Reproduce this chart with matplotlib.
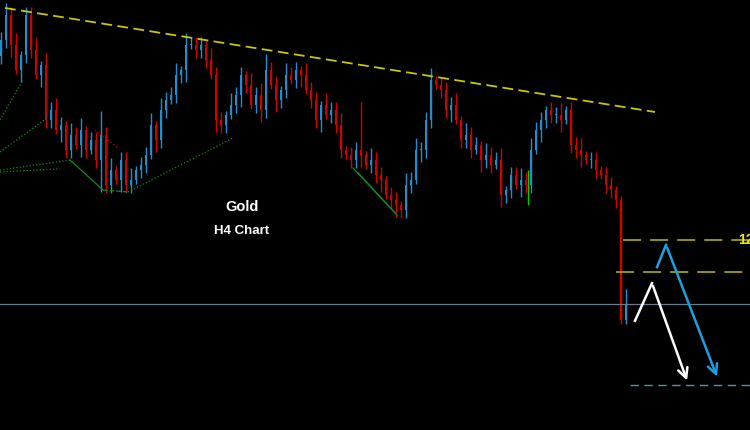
import numpy as np
import matplotlib.pyplot as plt

# Gold H4 candles (price), one candle every 4 hours
closes = [1320, 1326.2, 1318.8, 1312.5, 1316.2, 1326.2, 1317.5, 1311.2, 1313.8, 1300,
          1302.5, 1297.5, 1298.8, 1292.5, 1296.2, 1293.8, 1297.5, 1292.5, 1295, 1290,
          1296.2, 1283.8, 1287.5, 1285, 1290, 1283.8, 1285, 1287.5, 1288.8, 1291.2,
          1298.8, 1295, 1302.5, 1305, 1306.2, 1311.2, 1312.5, 1318.8, 1318.8, 1317.5,
          1318.8, 1315, 1311.2, 1300, 1298.8, 1301.2, 1303.8, 1306.2, 1311.2, 1308.8,
          1303.8, 1306.2, 1302.5, 1312.5, 1308.8, 1305, 1307.5, 1311.2, 1310, 1312.5,
          1311.2, 1307.5, 1305, 1300, 1303.8, 1301.2, 1302.5, 1298.8, 1292.5, 1291.2,
          1290, 1292.5, 1291.2, 1288.8, 1290, 1286.2, 1285, 1281.2, 1280, 1278.8,
          1277.5, 1283.8, 1285, 1292.5, 1292.5, 1300, 1310, 1308.8, 1307.5, 1302.5,
          1303.8, 1300, 1295, 1296.2, 1292.5, 1293.8, 1290, 1291.2, 1288.8, 1290,
          1281.2, 1282.5, 1286.2, 1283.8, 1285, 1283.8, 1292.5, 1297.5, 1300, 1302.5,
          1301.2, 1301.2, 1300, 1302.5, 1293.8, 1292.5, 1291.2, 1290, 1290, 1287.5,
          1286.2, 1283.8, 1282.5, 1280, 1250, 1253.8]
first_open = 1316
wick_up = [2, 3, 2, 3, 1, 2, 2, 3, 1, 3,
           2, 3, 2, 1, 3, 2, 3, 1, 2, 2,
           6, 2, 3, 1, 2, 2, 3, 1, 2, 2,
           3, 1, 3, 2, 2, 3, 1, 3, 2, 2,
           2, 1, 3, 2, 2, 1, 3, 2, 2, 1,
           3, 2, 3, 4, 2, 2, 1, 3, 2, 2,
           1, 3, 2, 2, 1, 3, 2, 2, 3, 1,
           2, 2, 12, 1, 3, 2, 2, 1, 2, 2,
           1, 3, 2, 3, 2, 2, 3, 1, 2, 2,
           2, 3, 1, 3, 2, 2, 1, 3, 2, 2,
           3, 1, 2, 2, 3, 2, 3, 2, 2, 1,
           2, 2, 3, 1, 2, 2, 3, 1, 2, 2,
           1, 2, 2, 1, 1, 4]
wick_dn = [2, 2, 3, 1, 3, 2, 2, 1, 3, 2,
           2, 1, 3, 2, 2, 1, 3, 2, 1, 2,
           8, 2, 2, 1, 3, 2, 2, 1, 2, 2,
           1, 3, 2, 2, 1, 2, 2, 3, 1, 2,
           2, 2, 1, 3, 2, 2, 1, 2, 3, 2,
           1, 2, 3, 2, 1, 3, 2, 2, 1, 2,
           3, 1, 2, 2, 3, 1, 2, 2, 2, 1,
           2, 2, 3, 1, 2, 2, 3, 1, 2, 3,
           2, 2, 2, 1, 3, 2, 2, 1, 2, 2,
           3, 1, 2, 2, 2, 1, 3, 2, 2, 1,
           3, 2, 2, 1, 3, 2, 2, 1, 3, 2,
           2, 2, 3, 1, 2, 2, 3, 1, 2, 2,
           1, 2, 2, 2, 1, 1]

# drawn objects (candle index, price)
trend_x = [0.8, 130.8]
trend_y = [1328, 1302]
level_hi = 1270
level_lo = 1262
level_now = 1254
level_target = 1233.8
white_x = [126.8, 130.2, 137.4]
white_y = [1249.8, 1259.2, 1234.2]
blue_x = [131.2, 133.0, 143.4]
blue_y = [1263.2, 1268.8, 1235.2]
fan_lines = [([-0.2, 4.4], [1300, 1310]),
             ([-0.2, 9.2], [1292, 1300.5]),
             ([-0.2, 13.8], [1287.5, 1290]),
             ([-0.2, 11.8], [1287, 1287.8]),
             ([25.4, 46.4], [1282, 1295.5])]
chan_lines = [([70.4, 79.2], [1288, 1276.2]),
              ([71.4, 78.8], [1286.8, 1276.8])]

opens = [first_open] + closes[:-1]
o = np.array(opens)
c = np.array(closes)
hi = np.maximum(o, c) + np.array(wick_up)
lo = np.minimum(o, c) - np.array(wick_dn)
x = np.arange(len(closes))

fig = plt.figure(figsize=(7.5, 4.3), dpi=100, facecolor='black')
ax = fig.add_axes([0, 0, 1, 1], facecolor='black')

up = c >= o
col = np.where(up, '#1f8fd0', '#d40000')
ax.vlines(x, lo, hi, colors=col, linewidth=1.0)
ax.bar(x, np.maximum(np.abs(c - o), 0.3), bottom=np.minimum(o, c), width=0.55, color=col)

# trendline and levels
ax.plot(trend_x, trend_y, color='#c8c800', lw=1.3, dashes=(6, 3))
ax.axhline(level_now, color='#6a7c8c', lw=0.9)
ax.plot([124.4, 150], [level_hi, level_hi], color='#a0a000', lw=1.3, dashes=(10, 5))
ax.plot([123, 150], [level_lo, level_lo], color='#a0a000', lw=1.3, dashes=(10, 5))
ax.plot([125.8, 150], [level_target, level_target], color='#5a8fb0', lw=1.0, dashes=(6, 4))
ax.text(147.4, level_hi, '1270.00', color='#f0f000', fontsize=10, fontweight='bold',
        va='center', ha='left', family='Liberation Sans')

# fan / channel helper lines
for fx, fy in fan_lines:
    ax.plot(fx, fy, color='#148a14', lw=0.9, ls=':')
ax.plot([13.8, 20.4], [1290, 1282.5], color='#148a14', lw=0.9)
ax.plot([20.4, 25.4], [1282.5, 1282], color='#148a14', lw=0.9, ls='--')
ax.plot([18.8, 23.2], [1297.5, 1293.2], color='#b00000', lw=0.9, ls=':')
for fx, fy in chan_lines:
    ax.plot(fx, fy, color='#148a14', lw=0.9)
ax.vlines(105.4, 1278.8, 1287.5, color='#00d000', lw=1.0)

# projection arrows
ax.plot(white_x[:2], white_y[:2], color='white', lw=1.8)
ax.annotate('', xy=(white_x[2], white_y[2]), xytext=(white_x[1], white_y[1]),
            arrowprops=dict(arrowstyle='->,head_length=0.7,head_width=0.35', color='white', lw=1.8))
ax.plot(blue_x[:2], blue_y[:2], color='#1aa0e0', lw=1.8)
ax.annotate('', xy=(blue_x[2], blue_y[2]), xytext=(blue_x[1], blue_y[1]),
            arrowprops=dict(arrowstyle='->,head_length=0.7,head_width=0.35', color='#1aa0e0', lw=1.8))

ax.text(48.2, 1278.2, 'Gold', color='white', fontsize=10.5, fontweight='bold',
        ha='center', va='center', family='Liberation Sans')
ax.text(48.2, 1272.3, 'H4 Chart', color='white', fontsize=9.5, fontweight='bold',
        ha='center', va='center', family='Liberation Sans')

ax.set_xlim(-0.2, 149.8)
ax.set_ylim(1222.5, 1330)
ax.axis('off')
fig.savefig('out.png', dpi=100, facecolor='black')
